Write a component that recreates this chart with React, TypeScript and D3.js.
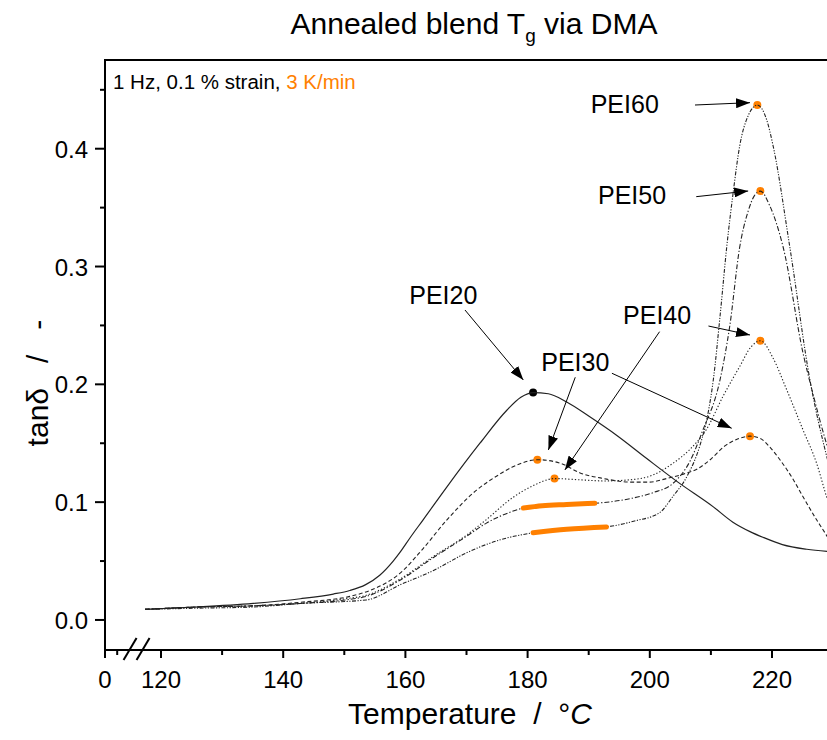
import React from 'react';
import * as d3 from 'd3';

type Pt = [number, number];

// tan delta curves, [temperature °C, tan delta]
const pei20: Pt[] = [
  [117.4, 0.009], [126.0, 0.011], [135.1, 0.014], [142.8, 0.018], [148.2, 0.022],
  [150.9, 0.025], [153.5, 0.030], [155.8, 0.038], [158.0, 0.050], [159.2, 0.058],
  [160.8, 0.070], [162.9, 0.085], [166.8, 0.113], [172.2, 0.150], [176.6, 0.178],
  [178.9, 0.189], [180.9, 0.193], [183.4, 0.192], [186.4, 0.185], [190.3, 0.172],
  [194.5, 0.157], [199.5, 0.137], [204.6, 0.117], [210.4, 0.096], [213.6, 0.083],
  [216.4, 0.075], [218.6, 0.070], [221.7, 0.064], [225.7, 0.060], [229.4, 0.058],
];
const pei30: Pt[] = [
  [117.4, 0.009], [126.0, 0.011], [135.1, 0.012], [142.8, 0.015], [150.9, 0.020],
  [154.2, 0.025], [159.2, 0.040], [162.8, 0.060], [166.8, 0.085], [171.6, 0.110],
  [174.9, 0.122], [177.6, 0.130], [181.6, 0.136], [185.4, 0.133], [188.5, 0.125],
  [192.5, 0.120], [196.8, 0.117], [200.0, 0.117], [202.7, 0.120], [205.6, 0.124],
  [207.7, 0.128], [210.1, 0.137], [212.1, 0.147], [214.1, 0.153], [216.4, 0.156],
  [218.1, 0.154], [219.6, 0.147], [221.3, 0.136], [223.5, 0.119], [224.7, 0.108],
  [227.3, 0.085], [228.9, 0.072], [229.6, 0.066],
];
const pei40: Pt[] = [
  [117.4, 0.009], [126.0, 0.011], [135.1, 0.012], [142.8, 0.014], [150.2, 0.018],
  [153.6, 0.021], [159.2, 0.035], [164.6, 0.054], [170.0, 0.072], [173.2, 0.085],
  [177.6, 0.104], [180.9, 0.114], [184.4, 0.120], [188.5, 0.119], [192.5, 0.118],
  [196.8, 0.119], [200.5, 0.123], [203.8, 0.133], [206.6, 0.145], [209.3, 0.162],
  [212.0, 0.190], [214.7, 0.215], [216.6, 0.232], [218.1, 0.237], [220.2, 0.222],
  [222.2, 0.198], [225.1, 0.161], [227.3, 0.133], [228.9, 0.105], [229.5, 0.095],
];
const pei50: Pt[] = [
  [117.4, 0.009], [126.0, 0.011], [135.1, 0.012], [142.8, 0.014], [150.2, 0.017],
  [153.6, 0.020], [159.2, 0.034], [164.6, 0.053], [170.0, 0.071], [173.2, 0.082],
  [176.4, 0.090], [179.3, 0.095], [182.4, 0.097], [186.4, 0.098], [191.0, 0.099],
  [196.8, 0.103], [200.5, 0.108], [203.8, 0.116], [206.6, 0.135], [208.6, 0.160],
  [211.5, 0.204], [213.1, 0.250], [214.7, 0.316], [216.1, 0.347], [217.1, 0.360],
  [218.1, 0.364], [219.6, 0.352], [221.8, 0.317], [225.1, 0.226], [226.8, 0.190],
  [228.9, 0.150], [229.5, 0.140],
];
const pei60: Pt[] = [
  [117.4, 0.009], [126.0, 0.010], [135.1, 0.011], [142.8, 0.014], [153.6, 0.017],
  [159.2, 0.030], [164.6, 0.042], [170.0, 0.057], [175.5, 0.068], [180.9, 0.074],
  [186.4, 0.077], [192.9, 0.079], [197.5, 0.084], [201.6, 0.091], [203.8, 0.105],
  [206.1, 0.122], [208.2, 0.148], [209.4, 0.172], [210.4, 0.204], [211.5, 0.258],
  [212.6, 0.317], [213.7, 0.365], [214.7, 0.402], [216.1, 0.428], [217.6, 0.437],
  [219.1, 0.425], [220.2, 0.402], [222.9, 0.317], [226.2, 0.204], [228.9, 0.140],
  [229.5, 0.128],
];

// peak markers
const blackPeaks: Pt[] = [[180.9, 0.193]];
const orangePeaks: Pt[] = [
  [181.6, 0.136], [216.4, 0.156], [184.4, 0.120], [218.1, 0.237], [218.1, 0.364], [217.6, 0.437],
];
// orange-highlighted temperature windows [series, from, to]
const highlightRanges: [string, number, number][] = [
  ['PEI50', 179.3, 191.0],
  ['PEI60', 180.9, 192.9],
];

// label positions and arrows (data coords)
const labels: [string, number, number][] = [
  ['PEI60', 195.9, 0.4303], ['PEI50', 197.1, 0.3531], ['PEI40', 201.2, 0.2512],
  ['PEI30', 187.8, 0.2116], ['PEI20', 166.2, 0.2682],
];
const arrows: [number, number, number, number][] = [
  [207.4, 0.4371, 216.4, 0.4391],
  [207.6, 0.3593, 216.1, 0.3641],
  [209.6, 0.2495, 216.4, 0.2419],
  [201.6, 0.2447, 186.1, 0.1273],
  [187.8, 0.2060, 183.4, 0.1443],
  [193.8, 0.2094, 213.4, 0.1627],
  [169.75, 0.2631, 179.3, 0.2037],
];

const yMajor = [0, 0.1, 0.2, 0.3, 0.4];
const yMinor = [0.05, 0.15, 0.25, 0.35, 0.45];
const xMajorLeft = [0];
const xMinorLeft = [2];
const xMajorRight = [120, 140, 160, 180, 200, 220];
const xMinorRight = [130, 150, 170, 190, 210, 230];

const W = 827;
const H = 740;
const left = 105, top = 60, bottom = 650, right = 860;
const FONT = 'Liberation Sans, Arial, Helvetica, sans-serif';
const ORANGE = '#ff8000';

const xLeft = d3.scaleLinear().domain([0, 3]).range([105, 123.3]);
const xRight = d3.scaleLinear().domain([120, 220]).range([161, 772]);
const x = (t: number) => (t < 60 ? xLeft(t) : xRight(t));
const y = d3.scaleLinear().domain([-0.0255, 0.4753]).range([bottom, top]);

const line = d3.line<Pt>().x(d => x(d[0])).y(d => y(d[1])).curve(d3.curveMonotoneX);

const series = [
  { name: 'PEI20', data: pei20, dash: undefined, w: 1.2 },
  { name: 'PEI30', data: pei30, dash: '4,2.5', w: 1.1 },
  { name: 'PEI40', data: pei40, dash: '1.3,2', w: 1.1 },
  { name: 'PEI50', data: pei50, dash: '5,2,1.3,2', w: 1.1 },
  { name: 'PEI60', data: pei60, dash: '4,1.5,1.2,1.5,1.2,1.5', w: 1.1 },
];

function subRange(data: Pt[], t0: number, t1: number): Pt[] {
  const interp = (t: number): Pt => {
    const i = data.findIndex(d => d[0] >= t);
    const a = data[i - 1], b = data[i];
    const k = (t - a[0]) / (b[0] - a[0]);
    return [t, a[1] + k * (b[1] - a[1])];
  };
  return [interp(t0), ...data.filter(d => d[0] > t0 && d[0] < t1), interp(t1)];
}

export default function App() {
  const byName: Record<string, Pt[]> = {};
  series.forEach(s => (byName[s.name] = s.data));
  const breakX = xRight(116);

  return (
    <svg width={W} height={H} style={{ position: 'absolute', left: 0, top: 0, background: '#fff' }}
      fontFamily={FONT}>
      <defs>
        <marker id="ah" viewBox="0 0 14 10" refX="14" refY="5" markerWidth="14" markerHeight="10"
          markerUnits="userSpaceOnUse" orient="auto">
          <path d="M0,0 L14,5 L0,10 z" fill="#000" />
        </marker>
      </defs>

      <text x={474} y={34} textAnchor="middle" fontSize={30}>
        Annealed blend T<tspan fontSize={19} dy={8}>g</tspan><tspan dy={-8}>{' via DMA'}</tspan>
      </text>

      {/* frame */}
      <rect x={left} y={top} width={right - left} height={bottom - top} fill="none" stroke="#000" strokeWidth={2} />

      {/* y ticks */}
      {yMajor.map(v => (
        <g key={'ym' + v}>
          <line x1={left - 10} x2={left} y1={y(v)} y2={y(v)} stroke="#000" strokeWidth={2} />
          <text x={88} y={y(v) + 9} textAnchor="end" fontSize={24}>{v.toFixed(1)}</text>
        </g>
      ))}
      {yMinor.map(v => (
        <line key={'yn' + v} x1={left - 5} x2={left} y1={y(v)} y2={y(v)} stroke="#000" strokeWidth={2} />
      ))}

      {/* x ticks */}
      {[...xMajorLeft, ...xMajorRight].map(t => (
        <g key={'xm' + t}>
          <line x1={x(t)} x2={x(t)} y1={bottom} y2={bottom + 8} stroke="#000" strokeWidth={2} />
          <text x={x(t)} y={688} textAnchor="middle" fontSize={24}>{t}</text>
        </g>
      ))}
      {[...xMinorLeft, ...xMinorRight].map(t => (
        <line key={'xn' + t} x1={x(t)} x2={x(t)} y1={bottom} y2={bottom + 5} stroke="#000" strokeWidth={2} />
      ))}
      {/* axis break */}
      {[-6.5, 6.5].map(o => (
        <line key={'br' + o} x1={breakX + o - 6.5} y1={bottom + 10} x2={breakX + o + 6.5} y2={bottom - 12}
          stroke="#000" strokeWidth={2} />
      ))}

      <text x={470} y={724} textAnchor="middle" fontSize={30} style={{ whiteSpace: 'pre' }}>
        {'Temperature  /  °'}<tspan fontStyle="italic">C</tspan>
      </text>
      <text transform="translate(48,383) rotate(-90)" textAnchor="middle" fontSize={30} style={{ whiteSpace: 'pre' }}>
        {'tanδ   /   -'}
      </text>

      <text x={113} y={89} fontSize={20.5}>
        {'1 Hz, 0.1 % strain, '}<tspan fill={ORANGE}>3 K/min</tspan>
      </text>

      {/* markers */}
      {blackPeaks.map((d, i) => (
        <circle key={'bp' + i} cx={x(d[0])} cy={y(d[1])} r={4} fill="#000" />
      ))}
      {orangePeaks.map((d, i) => (
        <circle key={'op' + i} cx={x(d[0])} cy={y(d[1])} r={4} fill={ORANGE} />
      ))}

      {/* curves */}
      {series.map(s => (
        <path key={s.name} d={line(s.data) || ''} fill="none" stroke="#222" strokeWidth={s.w}
          strokeDasharray={s.dash} />
      ))}

      {highlightRanges.map(([n, t0, t1]) => (
        <path key={'hl' + n} d={line(subRange(byName[n], t0, t1)) || ''} fill="none" stroke={ORANGE}
          strokeWidth={5} strokeLinecap="round" />
      ))}

      {/* annotations */}
      {arrows.map((a, i) => (
        <line key={'ar' + i} x1={x(a[0])} y1={y(a[1])} x2={x(a[2])} y2={y(a[3])} stroke="#000"
          strokeWidth={1} markerEnd="url(#ah)" />
      ))}
      {labels.map(([t, tx, ty]) => (
        <text key={t} x={x(tx)} y={y(ty)} textAnchor="middle" fontSize={25}>{t}</text>
      ))}
    </svg>
  );
}
